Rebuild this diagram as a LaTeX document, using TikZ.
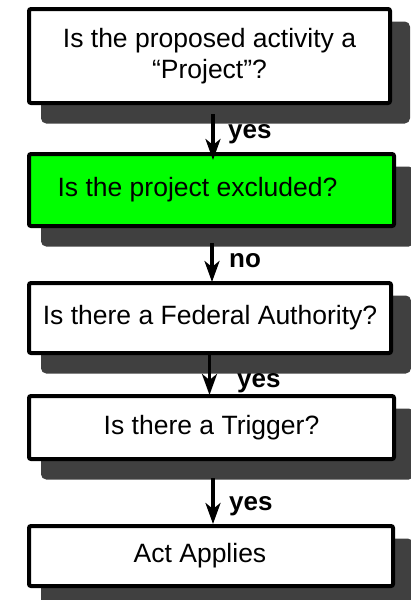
\documentclass[tikz,border=0pt]{standalone}
\usepackage{fontspec}
\setmainfont{Liberation Sans}
\usetikzlibrary{arrows.meta}
\definecolor{boxgreen}{RGB}{0,255,0}
\definecolor{shadowgray}{RGB}{64,64,64}
\tikzset{
  qbox/.style={draw=black, line width=4pt, rounded corners=2pt, fill=white,
    inner sep=0pt, align=center, font=\fontsize{26.5}{31}\selectfont,
    preaction={fill=shadowgray, draw=shadowgray, line width=8pt,
      transform canvas={shift={(16pt,-16.5pt)}}}},
  answer/.style={anchor=base west, inner sep=0pt, font=\fontsize{26}{31}\selectfont\bfseries},
  flow/.style={line width=3.5pt, -{Stealth[length=21pt,width=15pt,inset=6pt]}}
}
\begin{document}
\begin{tikzpicture}[x=1pt,y=-1pt]
      \useasboundingbox (0,0) rectangle (411,600);
      \draw
        (209.5,56) node[qbox, minimum width=361pt, minimum height=94pt] (project){Is the proposed activity a\\``Project''?}
        (211.5,190) node[qbox, fill=boxgreen, minimum width=365pt, minimum height=72pt] (excluded){Is the project excluded?\hspace{28pt}}
        (210,318) node[qbox, minimum width=362pt, minimum height=70pt] (authority){Is there a Federal Authority?}
        (211.5,427.5) node[qbox, minimum width=365pt, minimum height=63pt] (trigger){Is there a Trigger?}
        (211,556) node[qbox, minimum width=364pt, minimum height=60pt] (applies){Act Applies\hspace{22pt}};
      \draw
        (228,138.5) node[answer] (yes1){yes}
        (229,267) node[answer] (no2){no}
        (237,387) node[answer] (yes3){yes}
        (229,510.5) node[answer] (yes4){yes};
      \begin{scope}[flow]
        \draw ([xshift=3.5pt,yshift=-9pt]project.south) to ([xshift=1.5pt,yshift=-8pt]excluded.north);
        \draw ([xshift=0.5pt,yshift=-15pt]excluded.south) to ([xshift=2pt,yshift=-1pt]authority.north);
        \draw ([xshift=-0.5pt]authority.south) to ([xshift=-2pt,yshift=-1pt]trigger.north);
        \draw ([xshift=1.5pt,yshift=-17pt]trigger.south) to ([xshift=2pt]applies.north);
      \end{scope}
    \end{tikzpicture}
\end{document}
